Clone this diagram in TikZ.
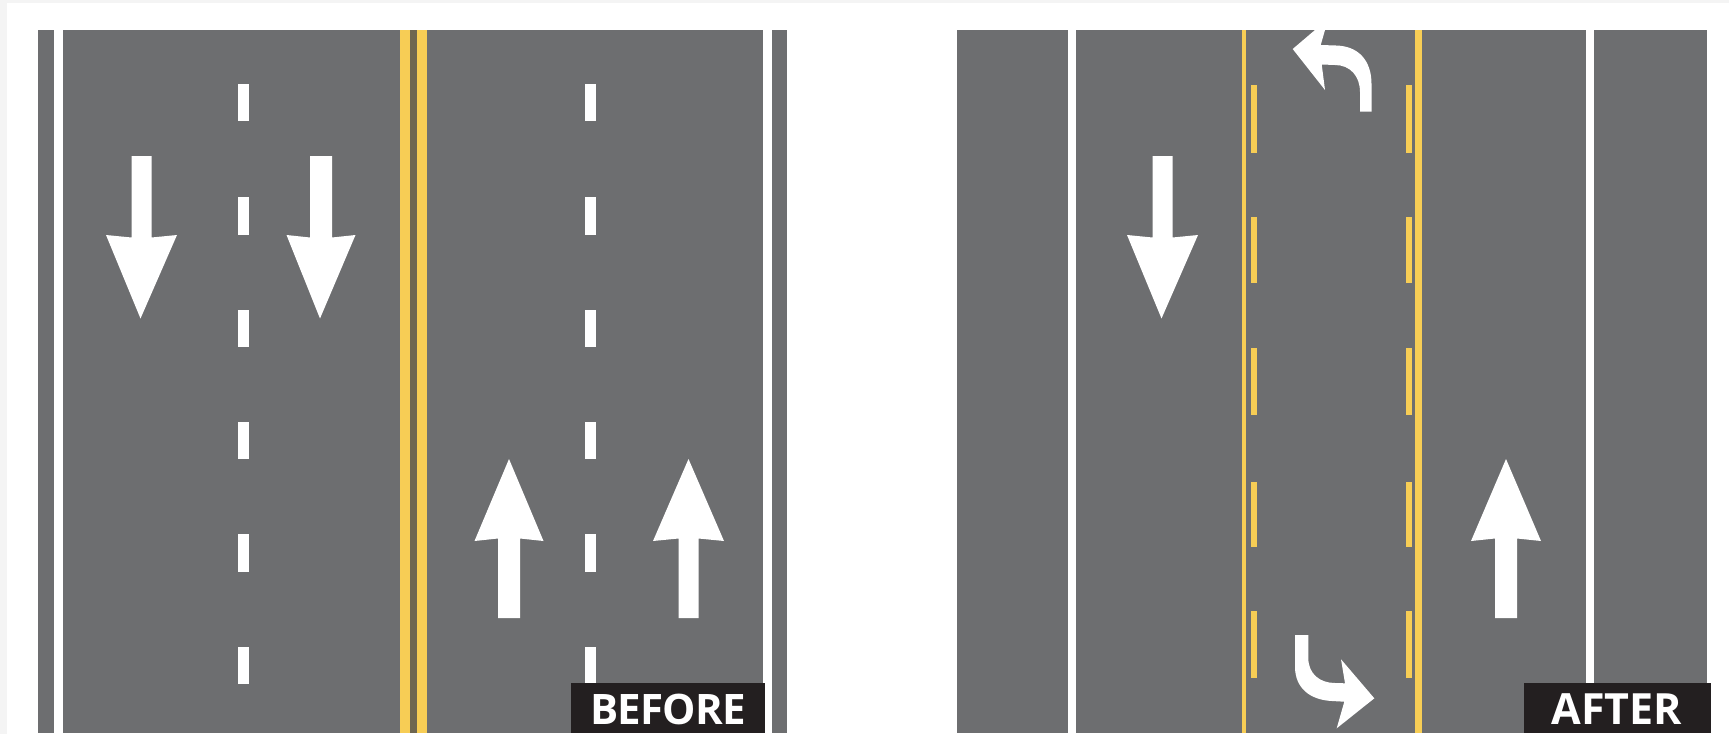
\documentclass[tikz,border=0pt]{standalone}
\usepackage{fontspec}
\setmainfont{Open Sans}
\definecolor{road}{HTML}{6D6E70}
\definecolor{stripe}{HTML}{F7CD55}
\definecolor{olive}{HTML}{6E6650}
\definecolor{tagblack}{HTML}{231F20}
\definecolor{edge}{HTML}{F4F4F4}
\tikzset{
  asphalt/.style={fill=road,draw=none},
  whitepaint/.style={fill=white,draw=none},
  yellowpaint/.style={fill=stripe,draw=none},
  tagbox/.style={fill=tagblack,draw=none},
  tagtext/.style={text=white,inner sep=0pt}
}
\newcommand{\downarrowmark}[3]{% centre x, half-width of shaft, half-width of head
  \fill[whitepaint] (#1-#2,156) -- (#1+#2,156) -- (#1+#2,237.5) -- (#1+#3,235) -- (#1-1,318.5) -- (#1-#3,235) -- (#1-#2,237.5) -- cycle;}
\newcommand{\uparrowmark}[3]{%
  \fill[whitepaint] (#1-#2,618) -- (#1+#2,618) -- (#1+#2,538.5) -- (#1+#3,541) -- (#1,459) -- (#1-#3,541) -- (#1-#2,538.5) -- cycle;}
\begin{document}
\begin{tikzpicture}[x=1pt,y=-1pt]
\useasboundingbox (0,0) rectangle (1729,734);
\fill[white] (0,0) rectangle (1729,734);
\fill[edge] (0,0) rectangle (1729,3);
\fill[edge] (0,0) rectangle (7,734);
% BEFORE panel
\fill[asphalt] (37.5,30) rectangle (787,733);
\fill[whitepaint] (54,30) rectangle (63,733);
\fill[whitepaint] (763,30) rectangle (772,733);
\fill[olive] (410,30) rectangle (417,733);
\fill[yellowpaint] (399.5,30) rectangle (410,733);
\fill[yellowpaint] (417,30) rectangle (427,733);
\foreach \t/\b in {84/121,197/235,310/347,422/459,534/572,647/684}{
  \fill[whitepaint] (237.5,\t) rectangle (248.5,\b);
  \fill[whitepaint] (584.5,\t) rectangle (596,\b);
}
\downarrowmark{141.5}{10}{35.5}
\downarrowmark{321}{11}{34.5}
\uparrowmark{509}{11}{34.5}
\uparrowmark{688.5}{10}{35.5}
\fill[tagbox] (571,683) rectangle (765,733);
\node[tagtext,font=\fontsize{42}{42}\selectfont\bfseries\addfontfeature{LetterSpace=-2}] (before) at (668,709) {BEFORE};
% AFTER panel
\fill[asphalt] (957,30) rectangle (1707,733);
\fill[whitepaint] (1068,30) rectangle (1076,733);
\fill[whitepaint] (1586,30) rectangle (1594,733);
\fill[yellowpaint] (1242,30) rectangle (1246,733);
\fill[yellowpaint] (1415,30) rectangle (1422,733);
\foreach \t/\b in {85/153,217/283,348/415,482/547,611/678}{
  \fill[yellowpaint] (1251,\t) rectangle (1257,\b);
  \fill[yellowpaint] (1405.5,\t) rectangle (1411.5,\b);
}
\downarrowmark{1162.5}{10}{35.5}
\uparrowmark{1506}{11}{35}
% turn arrows
\fill[whitepaint] (1360,111.7) -- (1360,92) .. controls (1360,76) and (1350,65) .. (1335,65)
  -- (1321.7,64.5) -- (1325,90) -- (1292.7,49) -- (1315,30) -- (1325,30) -- (1320.7,45) -- (1336,45.5)
  .. controls (1358,46) and (1371.5,60) .. (1371.5,84) -- (1371.5,111.7) -- cycle;
\fill[whitepaint] (1295,635) -- (1308.3,635) -- (1308.3,658) .. controls (1308.3,674) and (1320,683) .. (1335,683)
  -- (1345,683.3) -- (1341,659.3) -- (1374.3,698.3) -- (1336.7,728.3) -- (1344.3,701.7) -- (1332,701)
  .. controls (1310,700) and (1295,688) .. (1295,666.7) -- cycle;
\fill[tagbox] (1524,683) rectangle (1711,733);
\node[tagtext,font=\fontsize{43}{43}\selectfont\bfseries] (after) at (1617,709.5) {AFTER};
\end{tikzpicture}
\end{document}
